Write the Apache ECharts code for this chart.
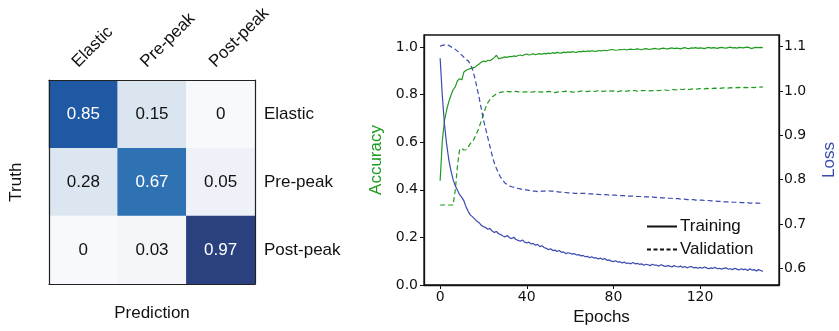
<!DOCTYPE html>
<html>
<head>
<meta charset="utf-8">
<script src="https://cdn.jsdelivr.net/npm/echarts@6/dist/echarts.min.js"></script>
<style>
  html, body { margin: 0; padding: 0; background: #ffffff; }
  #chart { width: 839px; height: 331px; }
</style>
</head>
<body>
<div id="chart"></div>
<script>
// ---- Confusion matrix ----
const classes = ['Elastic', 'Pre-peak', 'Post-peak'];
// rows = truth, columns = prediction
const confusion = [
  [0.85, 0.15, 0],
  [0.28, 0.67, 0.05],
  [0, 0.03, 0.97]
];

// ---- Training history (one value per epoch, 0..149) ----
const trainAcc = [
  0.438, 0.605, 0.690, 0.735, 0.770, 0.797, 0.820, 0.832, 0.858, 0.866,
  0.862, 0.895, 0.902, 0.906, 0.909, 0.912, 0.914, 0.922, 0.928, 0.936,
  0.940, 0.938, 0.944, 0.942, 0.948, 0.955, 0.965, 0.950, 0.953, 0.955,
  0.958, 0.956, 0.960, 0.959, 0.962, 0.960, 0.964, 0.966, 0.963, 0.968,
  0.970, 0.966, 0.968, 0.971, 0.967, 0.970, 0.972, 0.969, 0.973, 0.971,
  0.974, 0.972, 0.976, 0.973, 0.977, 0.975, 0.974, 0.978, 0.976, 0.979,
  0.977, 0.980, 0.978, 0.977, 0.981, 0.979, 0.982, 0.980, 0.983, 0.981,
  0.984, 0.982, 0.981, 0.985, 0.983, 0.984, 0.986, 0.984, 0.987, 0.989,
  0.988, 0.986, 0.987, 0.989, 0.988, 0.990, 0.987, 0.989, 0.991, 0.989,
  0.990, 0.992, 0.990, 0.988, 0.991, 0.993, 0.991, 0.990, 0.992, 0.994,
  0.992, 0.991, 0.993, 0.995, 0.993, 0.992, 0.994, 0.996, 0.993, 0.995,
  0.994, 0.992, 0.995, 0.997, 0.994, 0.993, 0.996, 0.995, 0.997, 0.994,
  0.996, 0.995, 0.993, 0.996, 0.998, 0.995, 0.997, 0.996, 0.994, 0.997,
  0.998, 0.996, 0.995, 0.997, 0.999, 0.996, 0.997, 0.995, 0.998, 0.997,
  0.996, 0.998, 0.999, 0.996, 0.993, 0.997, 0.998, 0.997, 0.998, 0.997
];
const valAcc = [
  0.336, 0.336, 0.336, 0.336, 0.336, 0.336, 0.336, 0.400, 0.500, 0.570,
  0.574, 0.567, 0.568, 0.580, 0.595, 0.601, 0.620, 0.640, 0.662, 0.690,
  0.716, 0.745, 0.765, 0.779, 0.790, 0.796, 0.803, 0.806, 0.810, 0.811,
  0.812, 0.813, 0.811, 0.812, 0.814, 0.813, 0.811, 0.812, 0.810, 0.811,
  0.811, 0.812, 0.810, 0.811, 0.813, 0.812, 0.811, 0.810, 0.812, 0.811,
  0.813, 0.812, 0.811, 0.808, 0.810, 0.812, 0.813, 0.812, 0.814, 0.813,
  0.812, 0.810, 0.811, 0.813, 0.812, 0.814, 0.815, 0.813, 0.812, 0.814,
  0.815, 0.813, 0.814, 0.816, 0.815, 0.813, 0.814, 0.816, 0.815, 0.814,
  0.815, 0.813, 0.812, 0.814, 0.815, 0.813, 0.814, 0.816, 0.815, 0.817,
  0.816, 0.814, 0.815, 0.817, 0.816, 0.818, 0.817, 0.815, 0.816, 0.818,
  0.817, 0.816, 0.818, 0.820, 0.819, 0.817, 0.818, 0.820, 0.821, 0.819,
  0.820, 0.822, 0.821, 0.823, 0.822, 0.821, 0.823, 0.824, 0.822, 0.824,
  0.825, 0.823, 0.824, 0.826, 0.825, 0.824, 0.826, 0.827, 0.825, 0.826,
  0.827, 0.828, 0.826, 0.827, 0.829, 0.828, 0.827, 0.829, 0.830, 0.828,
  0.829, 0.830, 0.829, 0.831, 0.830, 0.829, 0.831, 0.832, 0.831, 0.832
];
const trainLoss = [
  1.074, 0.990, 0.925, 0.880, 0.845, 0.820, 0.800, 0.786, 0.776, 0.766,
  0.760, 0.752, 0.738, 0.728, 0.720, 0.716, 0.711, 0.706, 0.703, 0.697,
  0.694, 0.692, 0.688, 0.690, 0.684, 0.681, 0.683, 0.678, 0.676, 0.673,
  0.671, 0.674, 0.669, 0.667, 0.670, 0.665, 0.663, 0.661, 0.664, 0.659,
  0.657, 0.659, 0.655, 0.656, 0.652, 0.654, 0.649, 0.651, 0.647, 0.645,
  0.642, 0.644, 0.640, 0.641, 0.638, 0.640, 0.636, 0.637, 0.633, 0.635,
  0.634, 0.632, 0.633, 0.630, 0.631, 0.628, 0.629, 0.626, 0.627, 0.624,
  0.626, 0.623, 0.624, 0.621, 0.623, 0.620, 0.622, 0.618, 0.619, 0.616,
  0.615, 0.617, 0.614, 0.615, 0.612, 0.614, 0.611, 0.612, 0.610, 0.613,
  0.610, 0.611, 0.609, 0.610, 0.607, 0.609, 0.608, 0.606, 0.609, 0.607,
  0.607, 0.605, 0.608, 0.606, 0.604, 0.606, 0.605, 0.603, 0.606, 0.604,
  0.603, 0.605, 0.602, 0.604, 0.601, 0.603, 0.604, 0.601, 0.602, 0.600,
  0.602, 0.600, 0.603, 0.601, 0.599, 0.601, 0.600, 0.602, 0.599, 0.600,
  0.598, 0.600, 0.601, 0.598, 0.599, 0.597, 0.600, 0.598, 0.596, 0.599,
  0.597, 0.598, 0.595, 0.599, 0.596, 0.597, 0.594, 0.597, 0.595, 0.593
];
const valLoss = [
  1.101, 1.103, 1.104, 1.105, 1.103, 1.100, 1.097, 1.094, 1.090, 1.085,
  1.081, 1.076, 1.071, 1.068, 1.060, 1.048, 1.030, 1.008, 0.985, 0.960,
  0.935, 0.915, 0.895, 0.875, 0.855, 0.838, 0.825, 0.814, 0.805, 0.798,
  0.792, 0.789, 0.786, 0.784, 0.783, 0.781, 0.780, 0.779, 0.778, 0.777,
  0.777, 0.776, 0.775, 0.774, 0.774, 0.773, 0.773, 0.774, 0.774, 0.775,
  0.775, 0.774, 0.774, 0.773, 0.773, 0.772, 0.772, 0.771, 0.771, 0.770,
  0.770, 0.770, 0.769, 0.769, 0.769, 0.769, 0.769, 0.769, 0.768, 0.768,
  0.768, 0.767, 0.767, 0.767, 0.766, 0.766, 0.766, 0.766, 0.765, 0.765,
  0.765, 0.765, 0.764, 0.764, 0.764, 0.764, 0.763, 0.763, 0.763, 0.763,
  0.762, 0.762, 0.762, 0.762, 0.761, 0.761, 0.761, 0.761, 0.761, 0.760,
  0.760, 0.760, 0.759, 0.759, 0.759, 0.758, 0.758, 0.758, 0.757, 0.757,
  0.757, 0.756, 0.756, 0.756, 0.755, 0.755, 0.755, 0.755, 0.754, 0.754,
  0.754, 0.754, 0.753, 0.753, 0.753, 0.752, 0.752, 0.752, 0.751, 0.751,
  0.751, 0.750, 0.750, 0.750, 0.750, 0.749, 0.749, 0.749, 0.749, 0.748,
  0.748, 0.748, 0.748, 0.747, 0.747, 0.747, 0.747, 0.747, 0.746, 0.746
];

// ---- Tick labels ----
const epochTicks = [0, 40, 80, 120];
const accTicks = [0, 0.2, 0.4, 0.6, 0.8, 1.0];
const lossTicks = [0.6, 0.7, 0.8, 0.9, 1.0, 1.1];

// ---- Styling ----
const GREEN = '#1f9a1f';
const BLUE = '#3a4aae';
const SANS = '"Liberation Sans", Arial, sans-serif';
const TICKFONT = '"DejaVu Sans", sans-serif';

const heatData = [];
confusion.forEach((row, r) => row.forEach((v, c) => heatData.push([c, r, v])));
const asPairs = arr => arr.map((v, i) => [i, v]);

const chart = echarts.init(document.getElementById('chart'), null, { renderer: 'canvas' });

const hiddenCat = (extra) => Object.assign({
  type: 'category', data: classes, gridIndex: 0, z: 5,
  axisLine: { show: true, onZero: false, lineStyle: { color: '#222', width: 1.2 } },
  axisTick: { show: false }, axisLabel: { show: false }, splitLine: { show: false }
}, extra);

chart.setOption({
  animation: false,
  backgroundColor: '#ffffff',
  textStyle: { fontFamily: SANS },
  grid: [
    { left: 49, top: 79, width: 206, height: 205 },
    { left: 424, top: 35, width: 359, height: 250, show: true, borderColor: '#111', borderWidth: 1.3, backgroundColor: 'transparent' }
  ],
  visualMap: {
    show: false, type: 'piecewise', seriesIndex: 0, dimension: 2,
    pieces: [
      { gte: 0, lt: 0.02, color: '#f8f9fc' },
      { gte: 0.02, lt: 0.04, color: '#f3f5f9' },
      { gte: 0.04, lt: 0.1, color: '#eef2f8' },
      { gte: 0.1, lt: 0.2, color: '#dbe5f0' },
      { gte: 0.2, lt: 0.4, color: '#dce6f1' },
      { gte: 0.4, lt: 0.75, color: '#2f72b3' },
      { gte: 0.75, lt: 0.9, color: '#1f58a3' },
      { gte: 0.9, lte: 1, color: '#2b407f' }
    ]
  },
  legend: {
    orient: 'vertical', left: 641, top: 213, itemGap: 6,
    itemWidth: 30, itemHeight: 14,
    data: ['Training', 'Validation'],
    itemStyle: { opacity: 0 },
    textStyle: { fontFamily: SANS, fontSize: 17, color: '#111', padding: [0, 0, 0, -2] }
  },
  xAxis: [
    hiddenCat({
      position: 'top',
      axisLabel: { show: true, rotate: -45, fontSize: 17, color: '#111', margin: 7,
        verticalAlign: 'bottom', lineHeight: 24, fontFamily: SANS }
    }),
    hiddenCat({
      position: 'bottom',
      name: 'Prediction', nameLocation: 'middle', nameGap: 21,
      nameTextStyle: { fontSize: 17, color: '#111', fontFamily: SANS }
    }),
    {
      type: 'value', gridIndex: 1, min: -7.45, max: 156.45,
      name: 'Epochs', nameLocation: 'middle', nameGap: 22,
      nameTextStyle: { fontSize: 17, color: '#111', fontFamily: SANS },
      axisLine: { show: true, onZero: false, lineStyle: { color: '#111', width: 1.3 } },
      axisTick: { show: true, customValues: epochTicks, length: 4, lineStyle: { color: '#111' } },
      axisLabel: { customValues: epochTicks, fontSize: 14, color: '#111', margin: 5, fontFamily: TICKFONT },
      splitLine: { show: false }
    }
  ],
  yAxis: [
    hiddenCat({
      position: 'right', inverse: true,
      axisLabel: { show: true, fontSize: 17, color: '#111', margin: 9, fontFamily: SANS }
    }),
    hiddenCat({
      position: 'left', inverse: true,
      name: 'Truth', nameLocation: 'middle', nameGap: 24,
      nameTextStyle: { fontSize: 17, color: '#111', fontFamily: SANS }
    }),
    {
      type: 'value', gridIndex: 1, position: 'left', min: 0, max: 1.05,
      name: 'Accuracy', nameLocation: 'middle', nameGap: 39,
      nameTextStyle: { fontSize: 17, color: GREEN, fontFamily: SANS },
      axisLine: { show: true, onZero: false, lineStyle: { color: '#111', width: 1.3 } },
      axisTick: { show: true, customValues: accTicks, length: 4, lineStyle: { color: '#111' } },
      axisLabel: { customValues: accTicks, fontSize: 14, color: '#111', margin: 6, fontFamily: TICKFONT,
        formatter: v => v.toFixed(1) },
      splitLine: { show: false }
    },
    {
      type: 'value', gridIndex: 1, position: 'right', min: 0.5623, max: 1.1264,
      name: 'Loss', nameLocation: 'middle', nameGap: 42, nameRotate: 90,
      nameTextStyle: { fontSize: 17, color: BLUE, fontFamily: SANS },
      axisLine: { show: true, onZero: false, lineStyle: { color: '#111', width: 1.3 } },
      axisTick: { show: true, customValues: lossTicks, length: 4, lineStyle: { color: '#111' } },
      axisLabel: { customValues: lossTicks, fontSize: 14, color: '#111', margin: 5, fontFamily: TICKFONT,
        formatter: v => v.toFixed(1) },
      splitLine: { show: false }
    }
  ],
  series: [
    {
      type: 'heatmap', xAxisIndex: 0, yAxisIndex: 0, data: heatData,
      itemStyle: { borderWidth: 0 },
      label: {
        show: true,
        formatter: p => (p.value[2] > 0.5 ? '{w|' : '{k|') + String(p.value[2]) + '}',
        rich: {
          w: { color: '#ffffff', fontSize: 17, fontFamily: SANS },
          k: { color: '#111111', fontSize: 17, fontFamily: SANS }
        }
      },
      emphasis: { disabled: true }
    },
    {
      name: 'Training accuracy', type: 'line', xAxisIndex: 2, yAxisIndex: 2,
      data: asPairs(trainAcc), symbol: 'none',
      lineStyle: { color: GREEN, width: 1.2 }, itemStyle: { color: GREEN }
    },
    {
      name: 'Validation accuracy', type: 'line', xAxisIndex: 2, yAxisIndex: 2,
      data: asPairs(valAcc), symbol: 'none',
      lineStyle: { color: GREEN, width: 1.2, type: [5, 3] }, itemStyle: { color: GREEN }
    },
    {
      name: 'Training loss', type: 'line', xAxisIndex: 2, yAxisIndex: 3,
      data: asPairs(trainLoss), symbol: 'none',
      lineStyle: { color: BLUE, width: 1.2 }, itemStyle: { color: BLUE }
    },
    {
      name: 'Validation loss', type: 'line', xAxisIndex: 2, yAxisIndex: 3,
      data: asPairs(valLoss), symbol: 'none',
      lineStyle: { color: BLUE, width: 1.2, type: [5, 3] }, itemStyle: { color: BLUE }
    },
    // legend keys: line style only
    {
      name: 'Training', type: 'line', xAxisIndex: 2, yAxisIndex: 2, data: [], symbol: 'none',
      lineStyle: { color: '#111', width: 1.3 }, itemStyle: { color: '#111' }
    },
    {
      name: 'Validation', type: 'line', xAxisIndex: 2, yAxisIndex: 2, data: [], symbol: 'none',
      lineStyle: { color: '#111', width: 1.3, type: [4, 2.5] }, itemStyle: { color: '#111' }
    }
  ]
});
</script>
</body>
</html>
